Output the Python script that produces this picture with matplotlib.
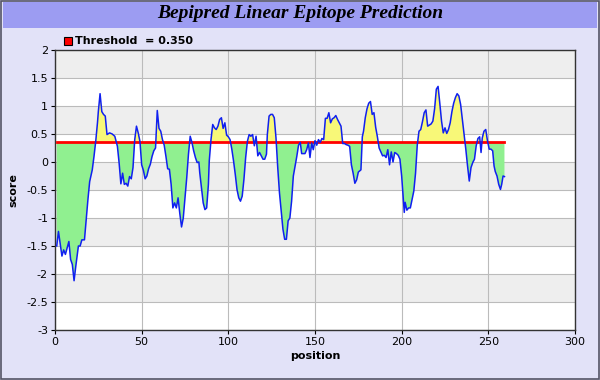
import numpy as np
import matplotlib
matplotlib.use('Agg')
from matplotlib import pyplot as plt
from matplotlib.patches import Rectangle

#  data
position = [1, 2, 4, 5, 6, 7.5, 8, 9, 10, 11, 12, 13.5, 14.5, 15.5, 17, 18, 19, 20,
            21.5, 22.5, 23.5, 24.5, 25, 26, 27, 28, 29, 30, 31.5, 33, 34.5, 35, 36, 37,
            38, 39, 40, 41, 42, 43, 44, 45, 46, 47, 48, 49, 50, 51, 52, 53, 54, 55, 56,
            57, 58, 58.5, 59, 60, 61, 62, 63, 64, 65, 66, 67, 68, 69, 70, 71, 72, 73, 74,
            75, 76, 77, 78, 79, 80, 81, 82, 83, 83.5, 84.5, 85.5, 86.5, 87.5, 88.5, 89,
            90, 91, 92, 93, 94, 95, 96, 97, 98, 99, 100, 101, 102, 103, 104, 105, 106,
            107, 108, 109, 110, 111, 112, 113, 114, 115, 116, 117, 118, 119, 120, 121,
            122, 122.5, 123.5, 124.5, 125.5, 126.5, 127.5, 128.5, 129.5, 130.5, 131.5,
            132.5, 133.5, 134.5, 135.5, 136.5, 137.5, 138.5, 139.5, 140.5, 141.5, 142.3,
            143.3, 144.2, 145.2, 146.2, 147.1, 148.1, 149, 150, 151, 152, 153, 154, 155,
            156, 157, 158, 159, 160, 161, 162, 163, 164, 165, 166, 167, 168, 169, 170,
            171, 172, 173, 174, 175, 176.5, 177.3, 178, 179, 180, 181, 182, 183, 184,
            185, 186, 187, 188, 189, 190, 191, 192, 193, 194, 195, 196, 197, 198, 199,
            200, 201, 201.5, 202, 203, 204, 205, 206, 207, 208, 209, 210, 211, 212, 213,
            214, 215, 216, 217, 218, 219, 220, 221, 222, 223, 224, 225, 226, 227, 228,
            229, 230, 231, 232, 233, 234, 235, 236, 237, 238, 239, 240, 241, 242, 243,
            244, 245, 245.8, 246.5, 247.5, 248.5, 249.5, 250.5, 251.5, 252.5, 253.3, 254,
            255, 256, 257, 257.7, 258.5, 259.3]
score = [-1.5, -1.24, -1.68, -1.57, -1.65, -1.48, -1.42, -1.74, -1.83, -2.12, -1.86, -1.5,
         -1.5, -1.39, -1.39, -1.03, -0.67, -0.35, -0.14, 0.1, 0.37, 0.7, 0.9, 1.22, 0.9,
         0.85, 0.82, 0.49, 0.52, 0.5, 0.46, 0.4, 0.28, -0.02, -0.39, -0.2, -0.4, -0.38,
         -0.43, -0.26, -0.3, -0.1, 0.4, 0.64, 0.52, 0.37, -0.05, -0.15, -0.3, -0.25, -0.12,
         -0.04, 0.1, 0.2, 0.25, 0.6, 0.92, 0.6, 0.55, 0.4, 0.3, 0.1, -0.12, -0.13, -0.4,
         -0.82, -0.73, -0.82, -0.64, -0.92, -1.16, -1.0, -0.64, -0.28, 0.14, 0.46, 0.35,
         0.2, 0.08, -0.01, 0.0, -0.19, -0.46, -0.73, -0.85, -0.82, -0.4, 0.02, 0.4, 0.67,
         0.61, 0.58, 0.64, 0.76, 0.79, 0.6, 0.7, 0.48, 0.45, 0.4, 0.23, 0.02, -0.22, -0.49,
         -0.64, -0.7, -0.61, -0.31, 0.08, 0.37, 0.49, 0.46, 0.49, 0.29, 0.46, 0.11, 0.17,
         0.11, 0.05, 0.05, 0.14, 0.49, 0.82, 0.85, 0.85, 0.79, 0.43, -0.1, -0.55, -0.88,
         -1.2, -1.38, -1.38, -1.05, -1.0, -0.7, -0.25, -0.08, 0.1, 0.3, 0.35, 0.15, 0.15,
         0.15, 0.22, 0.34, 0.08, 0.34, 0.22, 0.38, 0.3, 0.4, 0.35, 0.42, 0.4, 0.78, 0.78,
         0.88, 0.7, 0.77, 0.79, 0.83, 0.76, 0.7, 0.64, 0.33, 0.33, 0.31, 0.3, 0.28, -0.05,
         -0.2, -0.38, -0.32, -0.18, -0.14, 0.45, 0.55, 0.79, 0.95, 1.05, 1.08, 0.85, 0.88,
         0.62, 0.45, 0.25, 0.18, 0.11, 0.12, 0.08, 0.22, -0.05, 0.18, 0.0, 0.17, 0.15, 0.12,
         0.05, -0.25, -0.7, -0.9, -0.72, -0.86, -0.82, -0.82, -0.67, -0.52, -0.2, 0.3, 0.55,
         0.58, 0.72, 0.88, 0.93, 0.64, 0.66, 0.68, 0.73, 0.95, 1.3, 1.35, 1.05, 0.73, 0.52,
         0.61, 0.51, 0.58, 0.7, 0.9, 1.05, 1.15, 1.22, 1.18, 1.03, 0.76, 0.49, 0.23, -0.07,
         -0.34, -0.1, -0.01, 0.05, 0.29, 0.42, 0.45, 0.17, 0.43, 0.55, 0.58, 0.38, 0.23,
         0.23, 0.2, -0.07, -0.17, -0.25, -0.4, -0.49, -0.4, -0.25, -0.26]
threshold = 0.35
x_ticks = [0, 50, 100, 150, 200, 250, 300]
y_ticks = [-3, -2.5, -2, -1.5, -1, -0.5, 0, 0.5, 1, 1.5, 2]

x = np.array(position)
y = np.array(score)

fig = plt.figure(figsize=(6, 3.8), dpi=100, facecolor='#E2E2F8')
#  frame and title bar
fig.patches.append(Rectangle((0.002, 0.002), 0.996, 0.996, transform=fig.transFigure,
                             fill=False, edgecolor='#555566', linewidth=1.2))
fig.patches.append(Rectangle((0.005, 1 - 28 / 380.), 0.99, 26 / 380., transform=fig.transFigure,
                             facecolor='#9C9CF2', edgecolor='none'))
fig.text(0.5, 1 - 14 / 380., 'Bepipred Linear Epitope Prediction', ha='center', va='center',
         family='Liberation Serif', weight='bold', style='italic', fontsize=14)

ax = fig.add_axes([55 / 600., 50 / 380., 520 / 600., 280 / 380.])
ax.set_facecolor('white')

#  alternating bands
for i, lo in enumerate(y_ticks[:-1]):
    if i % 2 == 1:
        ax.axhspan(lo, lo + 0.5, color='#EEEEEE', zorder=0, linewidth=0)
ax.grid(True, color='#BBBBBB', linewidth=0.8, zorder=1)
ax.set_axisbelow(True)

ax.fill_between(x, y, threshold, where=y >= threshold, interpolate=True,
                color='#F8F878', linewidth=0, zorder=2)
ax.fill_between(x, y, threshold, where=y <= threshold, interpolate=True,
                color='#90F090', linewidth=0, zorder=2)
ax.plot([x[0], x[-1]], [threshold, threshold], color='#FF0000', linewidth=2, zorder=3)
ax.plot(x, y, color='#1020F0', linewidth=1.1, zorder=4)

ax.set_xlim(0, 300)
ax.set_ylim(-3, 2)
ax.set_xticks(x_ticks)
ax.set_yticks(y_ticks)
ax.set_yticklabels(['{:g}'.format(v) for v in y_ticks])
ax.tick_params(labelsize=8, length=3, color='black', pad=2)
for s in ax.spines.values():
    s.set_color('#333333')
    s.set_linewidth(1)
ax.set_xlabel('position', fontsize=8, weight='bold', labelpad=3)
ax.set_ylabel('score', fontsize=8, weight='bold', labelpad=6)

#  legend
fig.patches.append(Rectangle((64 / 600., 1 - 45 / 380.), 8 / 600., 8 / 380., transform=fig.transFigure,
                             facecolor='#FF0000', edgecolor='black', linewidth=0.8))
fig.text(75 / 600., 1 - 41 / 380., 'Threshold  = 0.350', ha='left', va='center',
         fontsize=8, weight='bold')

fig.savefig('out.png', dpi=100, facecolor=fig.get_facecolor())
